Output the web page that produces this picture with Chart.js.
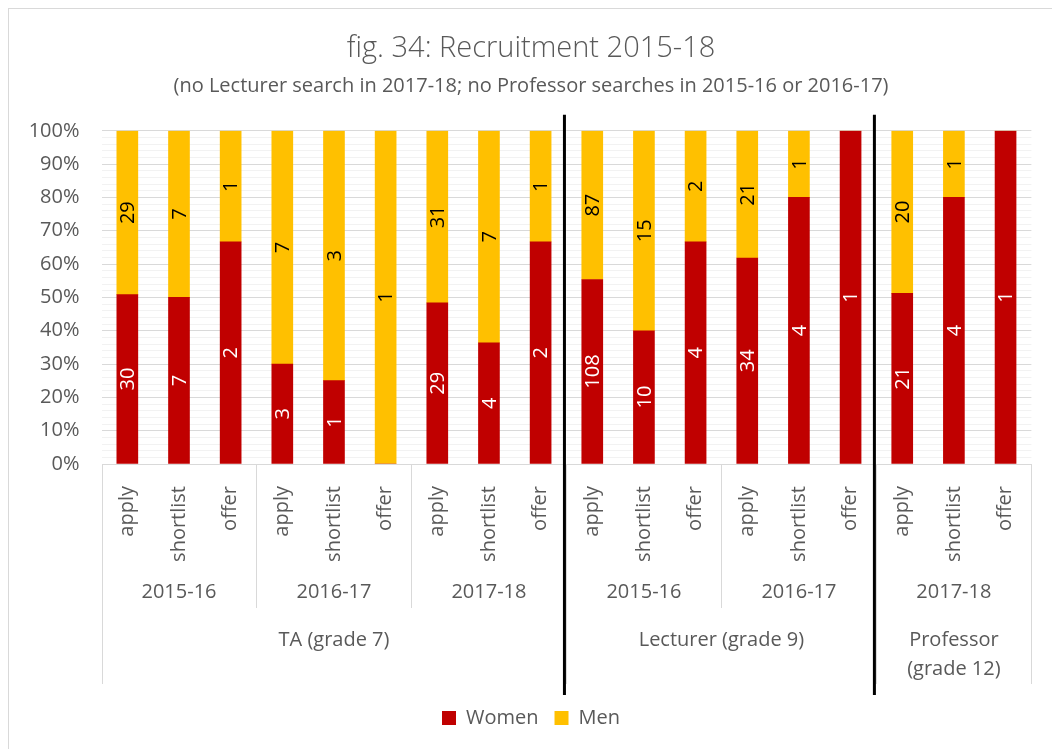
<!DOCTYPE html>
<html>
<head>
<meta charset="utf-8">
<script src="https://cdn.jsdelivr.net/npm/chart.js@4.4.1/dist/chart.umd.min.js"></script>
<style>
    html, body { margin: 0; padding: 0; background: #fff; }
    #wrap { width: 1052px; height: 749px; }
</style>
</head>
<body>
<div id="wrap"><canvas id="chart"></canvas></div>
<script>
// Données
const stageLabels = ['apply', 'shortlist', 'offer', 'apply', 'shortlist', 'offer',
    'apply', 'shortlist', 'offer', 'apply', 'shortlist', 'offer',
    'apply', 'shortlist', 'offer', 'apply', 'shortlist', 'offer'];
const yearLabels = ['2015-16', '2016-17', '2017-18', '2015-16', '2016-17', '2017-18'];
const groupLabels = [['TA (grade 7)'], ['Lecturer (grade 9)'], ['Professor', '(grade 12)']];
const yearsPerGroup = [3, 2, 1];
const women = [30, 7, 2, 3, 1, 0, 29, 4, 2, 108, 10, 4, 34, 4, 1, 21, 4, 1];
const men = [29, 7, 1, 7, 3, 1, 31, 7, 1, 87, 15, 2, 21, 1, 0, 20, 1, 0];

const FONT = "'Open Sans', 'Noto Sans', sans-serif";
const GREY_TEXT = '#595959';
const LINE = '#d9d9d9';

// parts en % pour l'empilement à 100 %
const womenShare = women.map((w, i) => w / (w + men[i]) * 100);
const menShare = men.map((m, i) => m / (women[i] + m) * 100);

// étiquettes de valeurs dans les barres
const barValues = {
    id: 'barValues',
    afterDatasetsDraw(chart) {
        const ctx = chart.ctx;
        const counts = [women, men];
        const colors = ['#ffffff', '#000000'];
        chart.data.datasets.forEach((ds, d) => {
            chart.getDatasetMeta(d).data.forEach((bar, i) => {
                if (!counts[d][i]) return;
                ctx.save();
                ctx.translate(bar.x + 1, (bar.y + bar.base) / 2);
                ctx.rotate(-Math.PI / 2);
                ctx.font = '20px ' + FONT;
                ctx.fillStyle = colors[d];
                ctx.textAlign = 'center';
                ctx.textBaseline = 'middle';
                ctx.fillText(String(counts[d][i]), 0, 0);
                ctx.restore();
            });
        });
    }
};

// axe des catégories à plusieurs niveaux + traits noirs de séparation
const multiAxis = {
    id: 'multiAxis',
    beforeDraw(chart) {
        const ctx = chart.ctx;
        ctx.save();
        ctx.strokeStyle = LINE;
        ctx.lineWidth = 1;
        ctx.strokeRect(8.5, 8.5, 1200, 900);
        ctx.restore();
    },
    afterDraw(chart) {
        const ctx = chart.ctx;
        const x = chart.scales.x;
        const bottom = chart.chartArea.bottom;
        const half = (x.getPixelForValue(1) - x.getPixelForValue(0)) / 2;
        const edge = (i) => x.getPixelForValue(i) - half;

        ctx.save();
        ctx.strokeStyle = LINE;
        ctx.lineWidth = 1;
        ctx.font = '20px ' + FONT;
        ctx.fillStyle = GREY_TEXT;
        ctx.textAlign = 'center';
        ctx.textBaseline = 'middle';

        let bar = 0;
        let year = 0;
        const groupEdges = [0];
        groupLabels.forEach((lines, g) => {
            const start = bar;
            for (let k = 0; k < yearsPerGroup[g]; k++) {
                const ys = bar;
                if (k > 0) {
                    const px = Math.round(edge(ys)) + 0.5;
                    ctx.beginPath();
                    ctx.moveTo(px, bottom);
                    ctx.lineTo(px, bottom + 144);
                    ctx.stroke();
                }
                bar += 3;
                ctx.fillText(yearLabels[year], (edge(ys) + edge(bar)) / 2, bottom + 128);
                year++;
            }
            groupEdges.push(bar);
            const cx = (edge(start) + edge(bar)) / 2;
            lines.forEach((t, l) => ctx.fillText(t, cx, bottom + 176 + l * 29));
        });

        groupEdges.forEach((b) => {
            const px = Math.round(edge(b)) + 0.5;
            ctx.beginPath();
            ctx.moveTo(px, bottom);
            ctx.lineTo(px, bottom + 220);
            ctx.stroke();
        });

        // traits noirs entre TA / Lecturer / Professor
        ctx.strokeStyle = '#000000';
        ctx.lineWidth = 3;
        groupEdges.slice(1, -1).forEach((b) => {
            const px = edge(b) - 2;
            ctx.beginPath();
            ctx.moveTo(px, chart.chartArea.top - 16);
            ctx.lineTo(px, bottom + 231);
            ctx.stroke();
        });
        ctx.restore();
    }
};

const ctx = document.getElementById('chart').getContext('2d');
new Chart(ctx, {
    type: 'bar',
    data: {
        labels: stageLabels,
        datasets: [{
            label: 'Women',
            data: womenShare,
            backgroundColor: '#c00000'
        }, {
            label: 'Men',
            data: menShare,
            backgroundColor: '#ffc000'
        }]
    },
    options: {
        responsive: true,
        maintainAspectRatio: false,
        animation: false,
        layout: { padding: { top: 10, left: 26, right: 16, bottom: 11 } },
        datasets: { bar: { barThickness: 21 } },
        plugins: {
            title: {
                display: true,
                text: 'fig. 34: Recruitment 2015-18',
                color: GREY_TEXT,
                font: { family: FONT, size: 29, weight: '300' },
                padding: { top: 21, bottom: 8 }
            },
            subtitle: {
                display: true,
                text: '(no Lecturer search in 2017-18; no Professor searches in 2015-16 or 2016-17)',
                color: GREY_TEXT,
                font: { family: FONT, size: 20 },
                padding: { top: 0, bottom: 33 }
            },
            legend: {
                position: 'bottom',
                labels: {
                    boxWidth: 14,
                    boxHeight: 14,
                    padding: 16,
                    color: GREY_TEXT,
                    font: { family: FONT, size: 20 }
                }
            },
            tooltip: { enabled: false }
        },
        scales: {
            x: {
                stacked: true,
                grid: { display: false, drawTicks: false },
                border: { display: false },
                ticks: {
                    minRotation: 90,
                    maxRotation: 90,
                    padding: 22,
                    color: GREY_TEXT,
                    font: { family: FONT, size: 20 }
                },
                afterFit(scale) { scale.height = 228; }
            },
            y: {
                stacked: true,
                min: 0,
                max: 100,
                grid: {
                    drawTicks: false,
                    color: (c) => c.tick.value % 10 === 0 ? '#d9d9d9' : '#f2f2f2'
                },
                border: { display: false },
                ticks: {
                    stepSize: 2,
                    autoSkip: false,
                    padding: 22,
                    color: GREY_TEXT,
                    font: { family: FONT, size: 20 },
                    callback: (v) => v % 10 === 0 ? v + '%' : ''
                },
                afterFit(scale) { scale.width = 75.5; }
            }
        }
    },
    plugins: [barValues, multiAxis]
});
</script>
</body>
</html>
